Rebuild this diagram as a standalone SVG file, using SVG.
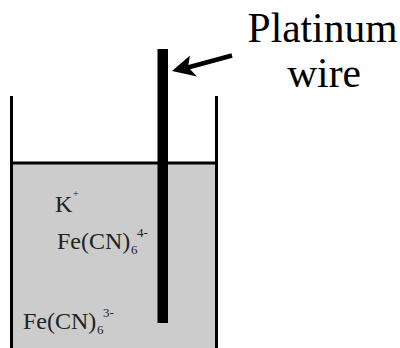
<svg xmlns="http://www.w3.org/2000/svg" width="400" height="348" viewBox="0 0 400 348">
<style>.t{font-family:"Liberation Serif",serif;fill:#000}.b{font-size:41.5px}.s{font-size:24px;fill:#222}.u{font-size:13px;fill:#222}.p{font-size:10px;fill:#222}</style>
<rect width="400" height="348" fill="#fff"/>
<g id="beaker">
<rect x="12" y="163" width="204" height="185" fill="#cccccc"/>
<path d="M11.5 96V348M216.500 96V348M11 163H217" fill="none" stroke="#000" stroke-width="3"/>
</g>
<g id="wire"><rect x="157.500" y="49" width="10.500" height="274" fill="#000"/></g>
<g id="connectors">
<path d="M232 55.500L186 68" stroke="#000" stroke-width="4.500" fill="none"/>
<path d="M172 71L190 55.500L188 67L197 76.500Z" fill="#000"/>
</g>
<g id="labels">
<text class="t b" x="322.500" y="42" text-anchor="middle">Platinum</text>
<text class="t b" x="324" y="87" text-anchor="middle">wire</text>
<text class="t s" x="55" y="212">K</text><text class="t p" x="73" y="197">+</text>
<text class="t s" x="57" y="249">Fe(CN)</text><text class="t u" x="131" y="254">6</text><text class="t u" x="137" y="237">4-</text>
<text class="t s" x="23" y="329">Fe(CN)</text><text class="t u" x="97" y="334">6</text><text class="t u" x="103" y="317">3-</text>
</g>
</svg>
